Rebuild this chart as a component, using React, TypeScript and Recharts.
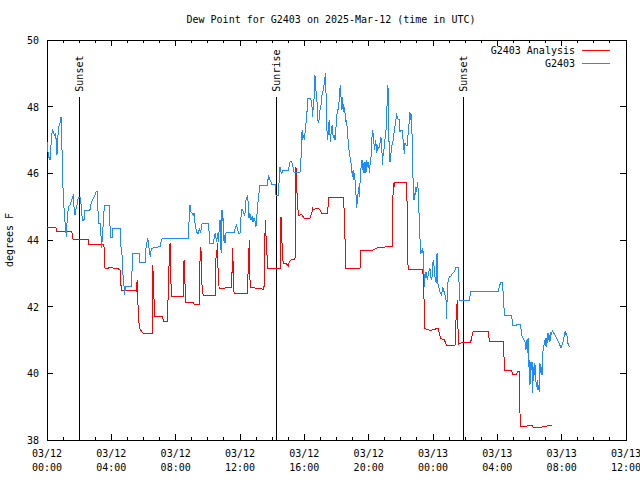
import { LineChart, Line, XAxis, YAxis, ReferenceLine, ReferenceArea } from "recharts";

const FONT = "'DejaVu Sans Mono', monospace";
const PLOT_TOP = 40;
const PLOT_RIGHT = 626;

// hours since 03/12 00:00 UTC, dew point in deg F
const analysis: [number, number][] = [
  [0, 44.37], [0.56, 44.37], [0.6, 44.27], [1.53, 44.27], [1.58, 44.15], [1.62, 44.03], [2.57, 44.03], [2.61, 43.87],
  [3.54, 43.87], [3.56, 43.5], [3.61, 43.15], [3.81, 43.15], [3.85, 43.17], [4.37, 43.15], [4.54, 43.1], [4.58, 42.8],
  [4.62, 42.5], [5.53, 42.5], [5.58, 42.45], [5.6, 42.8], [5.64, 42.2], [5.7, 41.7], [5.74, 41.35], [5.82, 41.3],
  [5.89, 41.25], [5.99, 41.2], [6.53, 41.2], [6.57, 43.25], [6.61, 42.9], [6.65, 42.25], [6.71, 41.72], [7.19, 41.72],
  [7.23, 41.57], [7.48, 41.57], [7.52, 42.15], [7.59, 43.28], [7.65, 43.9], [7.69, 43.1], [7.73, 42.32], [8.48, 42.32],
  [8.52, 43.4], [8.56, 42.9], [8.6, 42.5], [8.64, 42.12], [9.1, 42.12], [9.14, 42.08], [9.47, 42.08], [9.51, 43.35],
  [9.57, 43.8], [9.62, 42.8], [9.66, 42.45], [9.72, 42.33], [10.45, 42.33], [10.49, 43.45], [10.55, 43.48], [10.59, 43.9],
  [10.63, 43.2], [10.67, 42.7], [10.71, 42.55], [11.48, 42.57], [11.54, 43.75], [11.58, 43.15], [11.63, 42.4], [12.46, 42.4],
  [12.52, 43.3], [12.58, 44.0], [12.62, 42.8], [12.66, 42.58], [13.49, 42.52], [13.53, 43.55], [13.57, 44.6], [13.62, 44.1],
  [13.68, 43.55], [13.72, 43.15], [14.53, 43.15], [14.55, 44.7], [14.59, 44.3], [14.63, 43.6], [14.69, 43.3], [14.9, 43.28],
  [15.01, 43.22], [15.07, 43.35], [15.15, 43.4], [15.42, 43.42], [15.48, 46.2], [15.52, 45.6], [15.57, 45.2], [15.63, 44.72],
  [15.73, 44.75], [15.83, 44.77], [16.0, 44.65], [16.35, 44.65], [16.46, 44.8], [16.52, 44.95], [16.6, 44.9], [16.71, 44.95],
  [16.87, 44.95], [16.97, 44.9], [17.08, 44.8], [17.45, 44.8], [17.51, 45.28], [18.43, 45.28], [18.49, 44.75], [18.55, 43.65],
  [18.59, 43.15], [19.46, 43.15], [19.52, 43.7], [20.29, 43.7], [20.5, 43.75], [20.6, 43.78], [21.47, 43.8], [21.49, 44.8],
  [21.53, 45.7], [21.58, 45.6], [21.62, 45.72], [22.36, 45.72], [22.4, 44.8], [22.45, 43.13], [23.36, 43.13], [23.4, 42.8],
  [23.44, 42.25], [23.48, 41.35], [23.61, 41.32], [23.77, 41.3], [23.86, 41.28], [23.98, 41.32], [24.06, 41.3], [24.23, 41.35],
  [24.33, 41.35], [24.39, 41.2], [24.48, 41.05], [24.58, 41.02], [24.71, 41.0], [24.79, 40.9], [24.85, 40.85], [25.37, 40.85],
  [25.43, 41.6], [25.47, 41.9], [25.51, 42.2], [25.55, 41.4], [25.6, 40.88], [25.8, 40.92], [26.3, 40.92], [26.38, 41.0],
  [26.47, 41.22], [26.55, 41.27], [26.92, 41.25], [27.03, 41.27], [27.44, 41.25], [27.5, 40.97], [28.37, 40.97], [28.41, 40.55],
  [28.46, 40.08], [28.89, 40.08], [28.95, 39.98], [29.2, 39.98], [29.26, 40.05], [29.35, 40.05], [29.39, 39.2], [29.43, 38.4],
  [29.82, 38.4], [29.91, 38.45], [30.13, 38.45], [30.24, 38.38], [30.65, 38.38], [31.07, 38.42], [31.38, 38.45],
];

const observed: [number, number][] = [
  [0, 46.95], [0.02, 46.8], [0.1, 46.5], [0.19, 46.4], [0.23, 46.7], [0.29, 47.15], [0.35, 47.32], [0.41, 47.2],
  [0.48, 47.15], [0.54, 47.2], [0.58, 46.9], [0.62, 46.55], [0.66, 46.9], [0.71, 47.4], [0.79, 47.45], [0.83, 47.6],
  [0.87, 47.7], [0.91, 47.4], [0.95, 46.25], [1.02, 45.2], [1.1, 44.7], [1.16, 44.2], [1.18, 44.4], [1.22, 44.1],
  [1.26, 44.75], [1.35, 45.0], [1.43, 45.05], [1.53, 45.2], [1.6, 45.3], [1.64, 45.37], [1.68, 45.0], [1.74, 44.75],
  [1.78, 44.9], [1.84, 44.95], [1.91, 45.2], [1.97, 45.28], [2.09, 45.28], [2.14, 44.9], [2.2, 44.6], [2.3, 44.6],
  [2.34, 44.9], [2.67, 44.9], [2.72, 45.05], [2.78, 45.15], [2.84, 45.22], [2.9, 45.27], [2.98, 45.35], [3.05, 45.45],
  [3.13, 45.45], [3.15, 45.0], [3.23, 44.5], [3.32, 44.5], [3.36, 44.1], [3.4, 43.75], [3.44, 44.1], [3.5, 44.5],
  [3.56, 45.0], [3.63, 45.05], [3.86, 45.05], [3.9, 44.55], [3.96, 44.07], [4.06, 44.07], [4.1, 44.35], [4.54, 44.35],
  [4.58, 43.85], [4.66, 43.6], [4.7, 43.1], [4.79, 42.6], [4.83, 42.35], [4.87, 42.6], [4.91, 42.62], [5.24, 42.62],
  [5.29, 43.1], [5.33, 43.6], [5.74, 43.6], [5.78, 43.33], [6.11, 43.33], [6.16, 43.8], [6.2, 43.9], [6.26, 44.05],
  [6.32, 43.9], [6.36, 43.65], [6.43, 43.5], [6.47, 43.7], [6.51, 43.75], [7.03, 43.8], [7.13, 44.02], [7.19, 44.05],
  [8.79, 44.05], [8.85, 44.8], [8.89, 45.05], [8.95, 44.85], [9.02, 44.8], [9.1, 44.75], [9.14, 44.8], [9.22, 44.45],
  [9.31, 44.22], [9.41, 44.2], [9.47, 44.35], [9.55, 44.22], [9.64, 44.5], [10.05, 44.5], [10.11, 43.9], [10.34, 43.9],
  [10.45, 44.2], [10.55, 43.95], [10.61, 44.2], [10.67, 43.95], [10.71, 44.4], [10.76, 44.6], [10.8, 43.8], [10.84, 43.6],
  [10.88, 44.9], [10.92, 44.6], [10.96, 44.62], [11.01, 43.9], [11.05, 44.15], [11.09, 43.9], [11.13, 44.2], [11.17, 44.23],
  [11.63, 44.23], [11.71, 44.35], [11.75, 44.4], [11.79, 44.45], [11.83, 44.35], [11.92, 44.2], [12.0, 44.2], [12.04, 44.5],
  [12.08, 44.85], [12.12, 44.92], [12.21, 44.85], [12.27, 44.75], [12.31, 44.8], [12.37, 45.2], [12.44, 45.3], [12.48, 45.35],
  [12.52, 44.95], [12.56, 44.65], [12.62, 44.8], [12.68, 44.6], [12.75, 44.7], [12.81, 44.55], [12.87, 44.65], [12.95, 44.55],
  [12.99, 44.4], [13.06, 44.8], [13.12, 45.15], [13.18, 45.4], [13.24, 45.65], [13.72, 45.65], [13.76, 45.95], [13.87, 45.8],
  [13.97, 45.68], [14.18, 45.68], [14.24, 45.35], [14.38, 45.35], [14.45, 45.9], [14.49, 46.2], [14.55, 46.05], [14.59, 46.0],
  [14.69, 46.1], [15.01, 46.1], [15.11, 46.35], [15.21, 46.35], [15.28, 46.25], [15.32, 46.1], [15.38, 46.02], [15.73, 46.02],
  [15.79, 46.4], [15.86, 47.3], [15.9, 47.0], [15.94, 47.15], [16.0, 47.0], [16.06, 47.3], [16.15, 47.7], [16.21, 48.25],
  [16.39, 48.25], [16.46, 48.1], [16.52, 47.7], [16.56, 48.1], [16.62, 48.3], [16.66, 48.95], [16.71, 48.5], [16.77, 48.4],
  [16.83, 47.6], [16.89, 47.5], [16.93, 47.65], [16.97, 47.9], [17.04, 48.05], [17.1, 48.35], [17.16, 48.45], [17.24, 48.7],
  [17.31, 49.0], [17.35, 48.4], [17.39, 47.4], [17.45, 47.0], [17.51, 47.4], [17.55, 47.6], [17.62, 46.95], [17.68, 47.3],
  [17.74, 47.45], [17.8, 47.05], [17.84, 47.15], [17.91, 47.0], [17.97, 47.4], [18.01, 47.7], [18.07, 47.9], [18.14, 47.95],
  [18.18, 48.4], [18.24, 48.65], [18.28, 48.3], [18.34, 47.9], [18.38, 48.3], [18.43, 47.85], [18.47, 48.0], [18.53, 47.8],
  [18.59, 47.55], [18.63, 47.6], [18.67, 47.3], [18.74, 46.9], [18.8, 46.6], [18.84, 46.5], [18.88, 46.4], [18.94, 46.15],
  [18.99, 45.9], [19.03, 46.1], [19.09, 45.8], [19.13, 46.0], [19.17, 45.6], [19.21, 45.4], [19.25, 44.95], [19.3, 45.2],
  [19.34, 45.4], [19.38, 45.6], [19.42, 45.3], [19.46, 45.7], [19.52, 46.15], [19.59, 46.4], [19.63, 46.1], [19.67, 46.3],
  [19.71, 46.0], [19.77, 46.35], [19.83, 46.0], [19.88, 46.4], [19.94, 46.2], [20.0, 46.35], [20.04, 46.0], [20.1, 46.35],
  [20.15, 46.5], [20.21, 47.1], [20.25, 47.3], [20.31, 47.0], [20.37, 46.7], [20.44, 47.0], [20.5, 46.6], [20.56, 46.8],
  [20.62, 46.75], [20.68, 46.8], [20.75, 47.1], [20.81, 47.0], [20.85, 46.25], [20.89, 46.5], [20.95, 46.7], [21.02, 47.05],
  [21.08, 47.3], [21.12, 47.8], [21.16, 48.2], [21.2, 48.65], [21.24, 47.5], [21.29, 46.4], [21.33, 46.35], [21.43, 46.8],
  [21.53, 47.0], [21.6, 47.3], [21.66, 47.5], [21.74, 47.75], [21.78, 47.7], [21.84, 47.62], [21.91, 47.6], [21.95, 47.25],
  [22.01, 47.3], [22.07, 47.3], [22.16, 46.95], [22.22, 46.58], [22.26, 46.9], [22.32, 46.85], [22.4, 46.85], [22.47, 47.3],
  [22.51, 47.5], [22.55, 47.85], [22.59, 47.6], [22.63, 47.8], [22.67, 47.55], [22.72, 46.85], [22.76, 45.8], [22.78, 45.35],
  [22.82, 45.2], [22.86, 45.4], [22.9, 45.35], [22.94, 45.6], [22.99, 45.45], [23.03, 45.75], [23.07, 45.55], [23.11, 45.05],
  [23.15, 44.6], [23.17, 44.2], [23.21, 43.9], [23.23, 43.58], [23.28, 43.7], [23.32, 43.6], [23.36, 43.75], [23.4, 43.55],
  [23.44, 43.0], [23.46, 42.6], [23.5, 42.85], [23.57, 43.05], [23.61, 42.9], [23.65, 42.8], [23.71, 43.0], [23.77, 43.1],
  [23.81, 43.15], [23.86, 42.9], [23.9, 42.8], [23.94, 42.9], [23.98, 43.3], [24.02, 43.35], [24.06, 43.25], [24.1, 43.0],
  [24.15, 42.8], [24.21, 42.7], [24.25, 43.6], [24.29, 42.8], [24.33, 42.6], [24.39, 42.55], [24.46, 42.4], [24.54, 42.35],
  [24.6, 42.6], [24.64, 42.55], [24.71, 42.4], [24.77, 42.3], [24.81, 42.2], [24.85, 41.62], [24.89, 42.6], [24.95, 42.8],
  [25.02, 42.9], [25.12, 42.92], [25.22, 43.0], [25.29, 43.02], [25.37, 43.1], [25.43, 43.18], [25.58, 43.18], [25.62, 42.7],
  [25.64, 42.2], [26.26, 42.2], [26.34, 42.45], [28.06, 42.45], [28.12, 42.6], [28.21, 42.72], [28.33, 42.72], [28.37, 42.3],
  [28.44, 41.75], [28.89, 41.75], [28.95, 41.45], [29.2, 41.45], [29.24, 41.48], [29.45, 41.45], [29.51, 41.15], [29.62, 41.02],
  [29.72, 40.95], [29.78, 40.7], [29.82, 41.0], [29.86, 40.6], [29.91, 41.05], [29.95, 40.2], [29.99, 40.4], [30.03, 39.65],
  [30.07, 40.35], [30.11, 40.1], [30.16, 40.35], [30.2, 39.4], [30.24, 40.2], [30.28, 39.95], [30.32, 40.3], [30.36, 40.2],
  [30.4, 39.75], [30.45, 39.6], [30.49, 39.8], [30.53, 39.5], [30.57, 39.65], [30.61, 39.45], [30.65, 40.3], [30.69, 40.0],
  [30.74, 40.2], [30.78, 39.95], [30.82, 40.6], [30.9, 40.85], [30.94, 40.9], [30.98, 41.05], [31.03, 40.8], [31.07, 41.05],
  [31.11, 40.9], [31.15, 41.2], [31.19, 41.0], [31.23, 41.15], [31.27, 40.95], [31.32, 41.2], [31.36, 41.18], [31.42, 41.28],
  [31.52, 41.2], [31.69, 41.05], [31.85, 40.9], [31.96, 40.75], [32.02, 40.85], [32.1, 40.95], [32.17, 41.15], [32.23, 41.28],
  [32.27, 41.15], [32.31, 41.2], [32.39, 40.9], [32.48, 40.8],
];

const xTicks = Array.from({ length: 37 }, (_, i) => i);
const yTicks = [38, 40, 42, 44, 46, 48, 50];
const sunEvents = [
  { t: 2.05, label: "Sunset" },
  { t: 14.3, label: "Sunrise" },
  { t: 25.88, label: "Sunset" },
];
const EVENT_TOP = 48.3;

const analysisData = analysis.map(([t, v]) => ({ t, v }));
const observedData = observed.map(([t, v]) => ({ t, v }));

const pad = (n: number) => String(n).padStart(2, "0");

const XTick = ({ x, y, payload }: any) => {
  const t = payload.value as number;
  const major = t % 4 === 0;
  const len = major ? 6 : 3;
  const day = 12 + Math.floor(t / 24);
  return (
    <g>
      <line x1={x} x2={x} y1={y} y2={y - len} stroke="#000" shapeRendering="crispEdges" />
      <line x1={x} x2={x} y1={PLOT_TOP} y2={PLOT_TOP + len} stroke="#000" shapeRendering="crispEdges" />
      {major && (
        <text x={x} y={y + 17} textAnchor="middle" fontFamily={FONT} fontSize={10} fill="#000">
          <tspan x={x}>{`03/${day}`}</tspan>
          <tspan x={x} dy={14}>{`${pad(t % 24)}:00`}</tspan>
        </text>
      )}
    </g>
  );
};

const YTick = ({ x, y, payload }: any) => (
  <g>
    <line x1={x} x2={x + 6} y1={y} y2={y} stroke="#000" shapeRendering="crispEdges" />
    <line x1={PLOT_RIGHT - 6} x2={PLOT_RIGHT} y1={y} y2={y} stroke="#000" shapeRendering="crispEdges" />
    <text x={x - 8} y={y + 4} textAnchor="end" fontFamily={FONT} fontSize={10} fill="#000">
      {payload.value}
    </text>
  </g>
);

const EventLabel = ({ viewBox, text }: any) => {
  const x = viewBox.x + 3.5;
  const y = viewBox.y - 5;
  return (
    <text x={x} y={y} transform={`rotate(-90 ${x} ${y})`} fontFamily={FONT} fontSize={10} fill="#000">
      {text}
    </text>
  );
};

export default function App() {
  return (
    <div style={{ position: "absolute", left: 0, top: 0, background: "#fff" }}>
      <LineChart width={640} height={480} margin={{ top: 40, right: 14, bottom: 0, left: 0 }}>
        <XAxis
          type="number"
          dataKey="t"
          domain={[0, 36]}
          ticks={xTicks}
          interval={0}
          height={40}
          axisLine={false}
          tickLine={false}
          tickSize={0}
          tickMargin={0}
          tick={<XTick />}
          allowDuplicatedCategory={false}
        />
        <YAxis
          type="number"
          domain={[38, 50]}
          ticks={yTicks}
          width={47}
          axisLine={false}
          tickLine={false}
          tickSize={0}
          tickMargin={0}
          tick={<YTick />}
        />
        <ReferenceArea x1={0} x2={36} y1={38} y2={50} fill="none" stroke="#000" strokeWidth={1} shapeRendering="crispEdges" />
        {sunEvents.map((e, i) => (
          <ReferenceLine
            key={i}
            segment={[{ x: e.t, y: EVENT_TOP }, { x: e.t, y: 38 }]}
            stroke="#000"
            strokeWidth={1}
            shapeRendering="crispEdges"
            label={<EventLabel text={e.label} />}
          />
        ))}
        <Line
          data={analysisData}
          dataKey="v"
          type="linear"
          stroke="#ff0000"
          strokeWidth={1}
          shapeRendering="crispEdges"
          dot={false}
          isAnimationActive={false}
        />
        <Line
          data={observedData}
          dataKey="v"
          type="linear"
          stroke="#1e8cff"
          strokeWidth={1}
          shapeRendering="crispEdges"
          dot={false}
          isAnimationActive={false}
        />
        <text x={331} y={23} textAnchor="middle" fontFamily={FONT} fontSize={10} fill="#000">
          Dew Point for G2403 on 2025-Mar-12 (time in UTC)
        </text>
        <text x={13} y={240} transform="rotate(-90 13 240)" textAnchor="middle" fontFamily={FONT} fontSize={10} fill="#000">
          degrees F
        </text>
        <g fontFamily={FONT} fontSize={10} fill="#000">
          <text x={575} y={53.5} textAnchor="end">G2403 Analysis</text>
          <line x1={582} x2={610} y1={50} y2={50} stroke="#ff0000" shapeRendering="crispEdges" />
          <text x={575} y={66.5} textAnchor="end">G2403</text>
          <line x1={582} x2={610} y1={63} y2={63} stroke="#1e8cff" shapeRendering="crispEdges" />
        </g>
      </LineChart>
    </div>
  );
}
